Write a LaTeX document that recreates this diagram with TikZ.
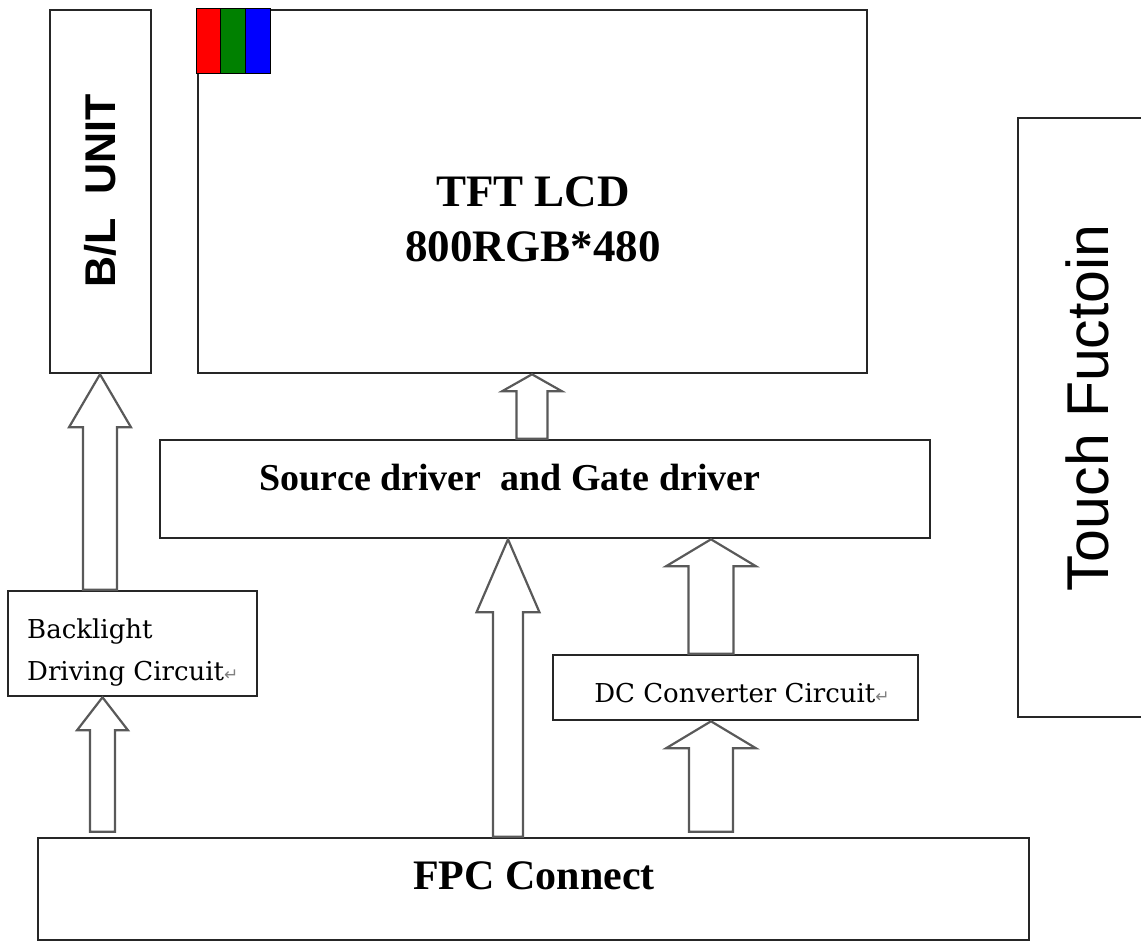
\documentclass[tikz,border=0pt]{standalone}
\usepackage{fontspec}
\setmainfont{Liberation Serif}
\setsansfont{Liberation Sans}
\newfontfamily\songfont{DejaVu Serif}
\newfontfamily\symfont{DejaVu Sans}
\usetikzlibrary{calc}

\tikzset{
  unit/.style={draw=black!85, line width=2.6pt, inner sep=0pt, rectangle},
  blockarr/.style={draw=black!65, line width=2.2pt, line join=miter},
  txt/.style={inner sep=0pt, anchor=base},
}
% paragraph mark after the small labels
\newcommand{\retmark}{{\symfont\color{black!50}\fontsize{17}{17}\selectfont ↵}}
% hollow arrow: bottom, tip, half shaft, half head, head length
\newcommand{\blockarrow}[5]{%
  \draw[blockarr] ($(#1)+(-#3,0)$) -- ($(#2)+(-#3,#5)$) -- ($(#2)+(-#4,#5)$) -- (#2)
    -- ($(#2)+(#4,#5)$) -- ($(#2)+(#3,#5)$) -- ($(#1)+(#3,0)$) -- cycle;}

\begin{document}
\begin{tikzpicture}[x=1pt,y=-1pt]
\useasboundingbox (0,0) rectangle (1141,943);
\clip (0,0) rectangle (1141,943);

%Shape: Rectangle [B/L unit]
\node[unit, minimum width=101pt, minimum height=363pt] (blunit) at (100.5,191.5) {};
%Shape: Rectangle [panel]
\node[unit, minimum width=669pt, minimum height=363pt] (tft) at (532.5,191.5) {};
%Shape: Rectangle [drivers]
\node[unit, minimum width=770pt, minimum height=98pt] (drv) at (545,489) {};
%Shape: Rectangle [backlight driving]
\node[unit, minimum width=249pt, minimum height=105pt] (bldrv) at (132.5,643.5) {};
%Shape: Rectangle [dc converter]
\node[unit, minimum width=365pt, minimum height=65pt] (dcc) at (735.5,687.5) {};
%Shape: Rectangle [fpc]
\node[unit, minimum width=991pt, minimum height=102pt] (fpc) at (533.5,889) {};
%Shape: Rectangle [touch]
\node[unit, minimum width=142pt, minimum height=599pt] (touch) at (1089,417.5) {};

%Shape: RGB pixel
\filldraw[fill=red, line width=1.4pt] (tft.north west) rectangle ++(24,65);
\filldraw[fill={rgb,255:red,0;green,128;blue,0}, line width=1.4pt] ($(tft.north west)+(24,0)$) rectangle ++(25,65);
\filldraw[fill=blue, line width=1.4pt] ($(tft.north west)+(49,0)$) rectangle ++(25,65);

%Block arrows
\coordinate (a1) at (100,0 |- bldrv.north);
\coordinate (t1) at (100,0 |- blunit.south);
\blockarrow{a1}{t1}{17}{31}{53}
\coordinate (a2) at (532,0 |- drv.north);
\coordinate (t2) at (532,0 |- tft.south);
\blockarrow{a2}{t2}{15.5}{30}{17}
\coordinate (a3) at (508,0 |- fpc.north);
\coordinate (t3) at (508,0 |- drv.south);
\blockarrow{a3}{t3}{15}{31.5}{73}
\coordinate (a4) at (711,0 |- dcc.north);
\coordinate (t4) at (711,0 |- drv.south);
\blockarrow{a4}{t4}{22.5}{45}{27}
\coordinate (a5) at ($(711,0 |- fpc.north)+(0,-5)$);
\coordinate (t5) at (711,0 |- dcc.south);
\blockarrow{a5}{t5}{22}{45}{27}
\coordinate (a6) at ($(102.5,0 |- fpc.north)+(0,-5)$);
\coordinate (t6) at (102.5,0 |- bldrv.south);
\blockarrow{a6}{t6}{12.5}{25.5}{33}

% Text Node
\node[inner sep=0pt, rotate=90, font=\sffamily\bfseries\fontsize{43}{43}\selectfont] (bltext) at (100,191) {B/L\ \ UNIT};
% Text Node
\node[txt, font=\bfseries\fontsize{45}{45}\selectfont] (tfttext) at (533,206) {TFT LCD};
% Text Node
\node[txt, font=\bfseries\fontsize{45}{45}\selectfont] (restext) at (533,261) {800RGB*480};
% Text Node
\node[txt, font=\bfseries\fontsize{38}{38}\selectfont] (drvtext) at (510,490) {Source driver\ \ and Gate driver};
% Text Node
\node[txt, anchor=base west, font=\songfont\fontsize{26}{26}\selectfont] (bltext1) at (27,638) {Backlight};
% Text Node
\node[txt, anchor=base west, font=\songfont\fontsize{26}{26}\selectfont] (bltext2) at (27,680) {Driving Circuit\retmark};
% Text Node
\node[txt, font=\songfont\fontsize{26}{26}\selectfont] (dcctext) at (742,702) {DC Converter Circuit\retmark};
% Text Node
\node[txt, font=\bfseries\fontsize{42}{42}\selectfont] (fpctext) at (534,889) {FPC Connect};
% Text Node
\node[inner sep=0pt, rotate=90, font=\sffamily\fontsize{59}{59}\selectfont] (touchtext) at (1087,408) {Touch Fuctoin};

\end{tikzpicture}
\end{document}
